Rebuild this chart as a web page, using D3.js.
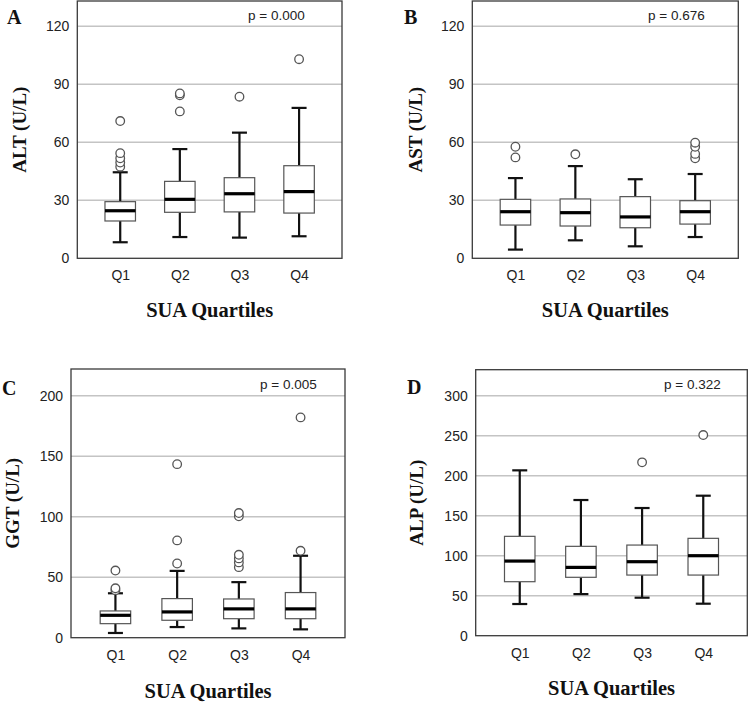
<!DOCTYPE html>
<html><head><meta charset="utf-8">
<script src="https://cdnjs.cloudflare.com/ajax/libs/d3/7.8.5/d3.min.js"></script>
<style>body{margin:0;background:#fff;}svg{display:block;}</style>
</head><body><svg id="chart" width="749" height="706"></svg>
<script>
const categories = ["Q1", "Q2", "Q3", "Q4"];
const panelLetters = ["A", "B", "C", "D"];
const yTitles = ["ALT (U/L)", "AST (U/L)", "GGT (U/L)", "ALP (U/L)"];
const pValues = ["p = 0.000", "p = 0.676", "p = 0.005", "p = 0.322"];
const xTitle = "SUA Quartiles";

// [lower whisker, Q1, median, Q3, upper whisker]
const altStats = [[8.3, 19.3, 24.6, 29.3, 44.5], [11, 23.8, 30.5, 39.8, 56.5], [10.7, 24, 33.4, 41.7, 65], [11.4, 23.4, 34.5, 47.9, 77.8]];
const altOutliers = [[47.4, 49.5, 51.7, 54.4, 71], [76, 84.3, 85.3], [83.6], [103]];
const astStats = [[4.5, 17.2, 24.1, 30.5, 41.5], [9.3, 16.7, 23.6, 30.7, 47.7], [6.2, 15.8, 21.4, 31.9, 40.9], [11, 17.7, 24.1, 29.8, 43.6]];
const astOutliers = [[52.2, 57.7], [53.8], [], [51.7, 54, 57.7, 59.8]];
const ggtStats = [[3.9, 11.6, 18.5, 22.1, 36.7], [8.8, 14.4, 21.3, 32.3, 55.2], [7.7, 15.7, 23.8, 32, 45.9], [6.9, 15.7, 23.8, 37.3, 67.7]];
const ggtOutliers = [[39.3, 40.8, 55.5], [61.3, 80.4, 143.4], [58.3, 62.2, 65.5, 68.5, 100.3, 103], [71.8, 182]];
const alpStats = [[39.6, 67.5, 93.3, 124.2, 206.7], [52, 73, 85.4, 111.7, 169.6], [47.5, 75.8, 92.5, 113.3, 159.6], [40, 75.8, 100, 121.7, 175]];
const alpOutliers = [[], [], [216.7], [250.8]];

const yTicksAB = [0, 30, 60, 90, 120];
const yTicksC = [0, 50, 100, 150, 200];
const yTicksD = [0, 50, 100, 150, 200, 250, 300];
const yMaxes = [133.1, 133.1, 222, 332.5];

const statsList = [altStats, astStats, ggtStats, alpStats];
const outlierList = [altOutliers, astOutliers, ggtOutliers, alpOutliers];
const tickList = [yTicksAB, yTicksAB, yTicksC, yTicksD];

// layout (frame boxes and text anchors)
const layout = [
  {x0: 77.3, x1: 342, y0: 1, y1: 258.3, letter: [7, 24], yt: 25.5, px: 248, py: 19.5, xt: 317},
  {x0: 472.3, x1: 738.3, y0: 1, y1: 258.3, letter: [404, 23.5], yt: 421.5, px: 648, py: 19.5, xt: 317},
  {x0: 71, x1: 345, y0: 369, y1: 637.7, letter: [2, 395], yt: 18.5, px: 260, py: 388.5, xt: 698},
  {x0: 475.7, x1: 747.3, y0: 369.7, y1: 635.7, letter: [407, 393.5], yt: 423, px: 664, py: 388.5, xt: 695}
];

const svg = d3.select("#chart");
const tickFont = "'Liberation Sans', Arial, sans-serif";
const serif = "'Liberation Serif', 'Times New Roman', serif";

layout.forEach((L, i) => {
  const g = svg.append("g");
  const x = d3.scalePoint().domain(categories).range([L.x0, L.x1]).padding(0.72);
  const y = d3.scaleLinear().domain([0, yMaxes[i]]).range([L.y1, L.y0]);
  const boxW = 30.5, capW = 15;

  // gridlines
  g.selectAll(".grid").data(tickList[i].filter(t => t > 0)).join("line")
    .attr("x1", L.x0).attr("x2", L.x1)
    .attr("y1", d => y(d)).attr("y2", d => y(d))
    .attr("stroke", "#c4c4c4").attr("stroke-width", 1.5);

  // y axis tick labels
  const yAxis = d3.axisLeft(y).tickValues(tickList[i]).tickSize(0).tickPadding(8);
  const ya = g.append("g").attr("transform", `translate(${L.x0},0)`).call(yAxis);
  ya.select(".domain").remove();
  ya.selectAll("text").attr("font-family", tickFont).attr("font-size", 14).attr("fill", "#222");

  // x axis labels
  const xAxis = d3.axisBottom(x).tickSize(0).tickPadding(12);
  const xa = g.append("g").attr("transform", `translate(0,${L.y1})`).call(xAxis);
  xa.select(".domain").remove();
  xa.selectAll("text").attr("font-family", tickFont).attr("font-size", 14).attr("fill", "#222");

  // frame
  g.append("rect").attr("x", L.x0).attr("y", L.y0).attr("width", L.x1 - L.x0).attr("height", L.y1 - L.y0)
    .attr("fill", "none").attr("stroke", "#3a3a3a").attr("stroke-width", 1.3);

  const data = statsList[i].map((s, j) => ({cat: categories[j], s, out: outlierList[i][j]}));
  const bx = g.selectAll(".bx").data(data).join("g");
  // whiskers
  bx.append("line").attr("x1", d => x(d.cat)).attr("x2", d => x(d.cat))
    .attr("y1", d => y(d.s[0])).attr("y2", d => y(d.s[1])).attr("stroke", "#111").attr("stroke-width", 2.2);
  bx.append("line").attr("x1", d => x(d.cat)).attr("x2", d => x(d.cat))
    .attr("y1", d => y(d.s[3])).attr("y2", d => y(d.s[4])).attr("stroke", "#111").attr("stroke-width", 2.2);
  // caps
  bx.append("line").attr("x1", d => x(d.cat) - capW / 2).attr("x2", d => x(d.cat) + capW / 2)
    .attr("y1", d => y(d.s[0])).attr("y2", d => y(d.s[0])).attr("stroke", "#111").attr("stroke-width", 2.2);
  bx.append("line").attr("x1", d => x(d.cat) - capW / 2).attr("x2", d => x(d.cat) + capW / 2)
    .attr("y1", d => y(d.s[4])).attr("y2", d => y(d.s[4])).attr("stroke", "#111").attr("stroke-width", 2.2);
  // box
  bx.append("rect").attr("x", d => x(d.cat) - boxW / 2).attr("width", boxW)
    .attr("y", d => y(d.s[3])).attr("height", d => y(d.s[1]) - y(d.s[3]))
    .attr("fill", "#fff").attr("stroke", "#555").attr("stroke-width", 1.2);
  // median
  bx.append("line").attr("x1", d => x(d.cat) - boxW / 2).attr("x2", d => x(d.cat) + boxW / 2)
    .attr("y1", d => y(d.s[2])).attr("y2", d => y(d.s[2])).attr("stroke", "#000").attr("stroke-width", 3.2);
  // outliers
  bx.selectAll("circle").data(d => d.out.map(v => ({cat: d.cat, v}))).join("circle")
    .attr("cx", d => x(d.cat)).attr("cy", d => y(d.v)).attr("r", 4.3)
    .attr("fill", "#fff").attr("stroke", "#555").attr("stroke-width", 1.3);

  // texts
  g.append("text").attr("x", L.letter[0]).attr("y", L.letter[1]).text(panelLetters[i])
    .attr("font-family", serif).attr("font-weight", "bold").attr("font-size", 20).attr("fill", "#111");
  g.append("text").attr("transform", `translate(${L.yt},${(L.y0 + L.y1) / 2}) rotate(-90)`)
    .attr("text-anchor", "middle").text(yTitles[i])
    .attr("font-family", serif).attr("font-weight", "bold").attr("font-size", 19).attr("fill", "#111");
  g.append("text").attr("x", L.px).attr("y", L.py).text(pValues[i])
    .attr("font-family", tickFont).attr("font-size", 13.5).attr("fill", "#222");
  g.append("text").attr("x", (L.x0 + L.x1) / 2).attr("y", L.xt).attr("text-anchor", "middle").text(xTitle)
    .attr("font-family", serif).attr("font-weight", "bold").attr("font-size", 20.5).attr("fill", "#111");
});
</script></body></html>
